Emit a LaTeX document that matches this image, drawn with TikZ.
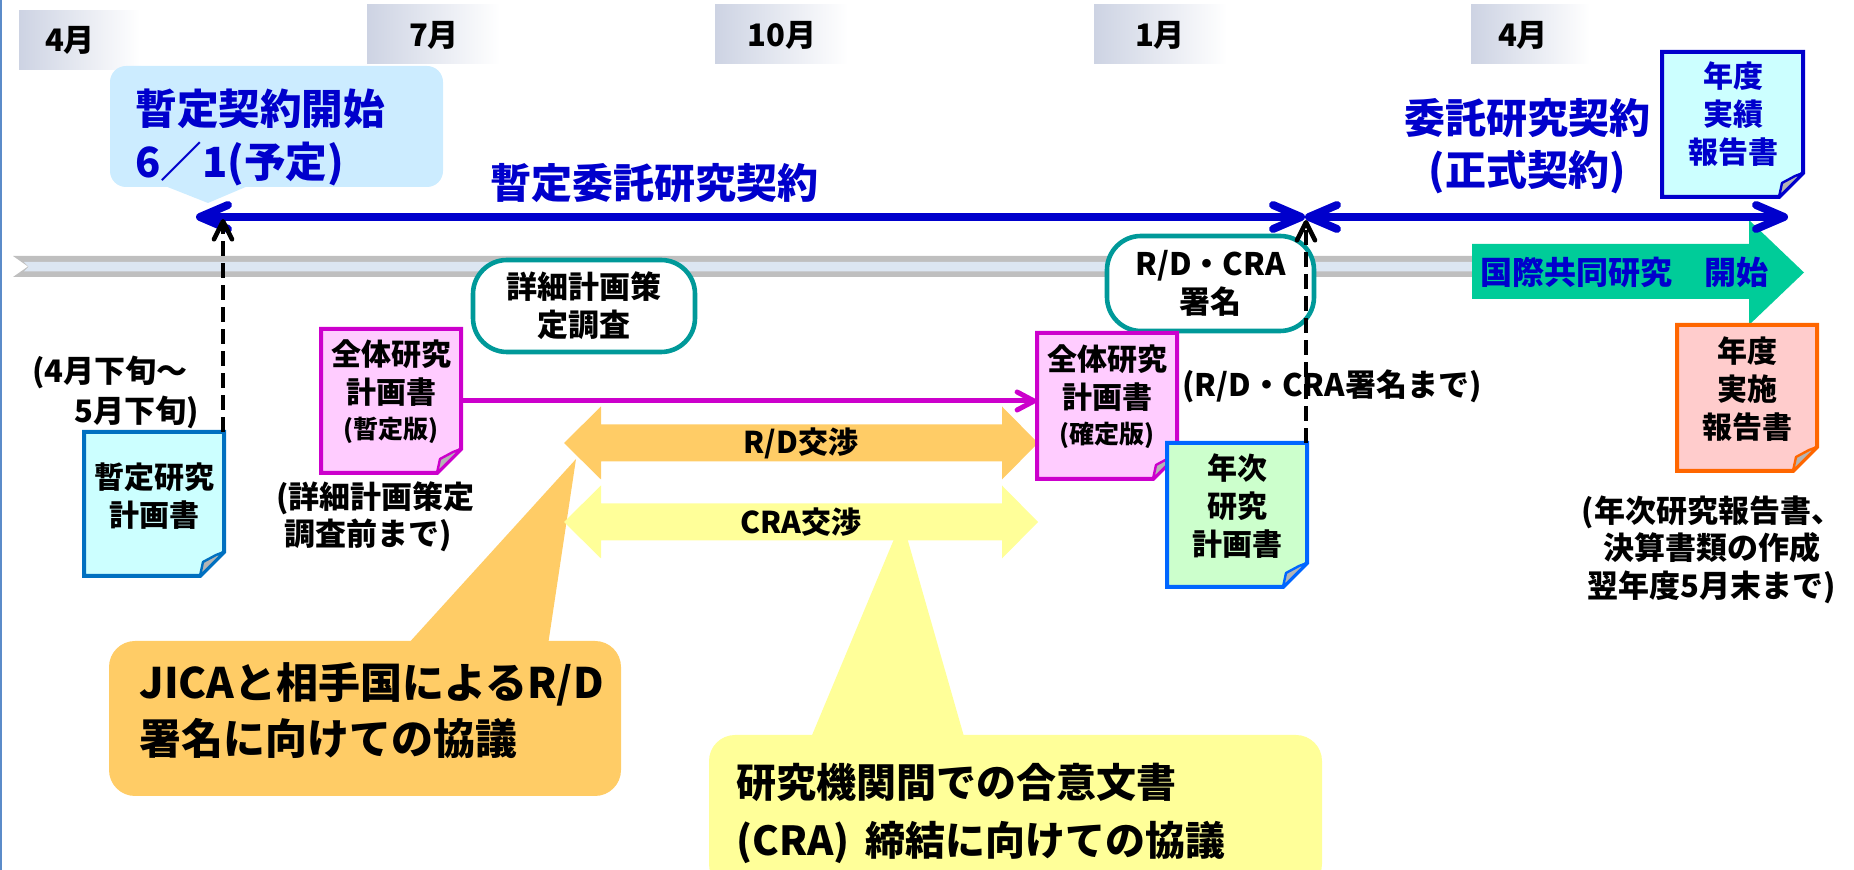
\documentclass[tikz,border=0pt]{standalone}
\usepackage{fontspec}
\setmainfont{Noto Sans CJK JP}
\usetikzlibrary{arrows.meta}
\definecolor{cblue}{HTML}{0000CC}
\definecolor{callblue}{HTML}{CCECFF}
\definecolor{tealc}{HTML}{009999}
\definecolor{monthc}{HTML}{CDD3E3}
\definecolor{bargray}{HTML}{BFBFBF}
\definecolor{barin}{HTML}{DCE6F2}
\definecolor{corange}{HTML}{FFCC66}
\definecolor{cyellow}{HTML}{FFFF99}
\definecolor{cgreen}{HTML}{00CC99}
\definecolor{doca}{HTML}{0070C0}
\definecolor{docc}{HTML}{CCFFFF}
\definecolor{magb}{HTML}{CC00CC}
\definecolor{magf}{HTML}{FFCCFF}
\definecolor{grb}{HTML}{0066FF}
\definecolor{grf}{HTML}{CCFFCC}
\definecolor{orb}{HTML}{FF6600}
\definecolor{orf}{HTML}{FFCCCC}
\definecolor{foldc}{HTML}{B4B4B4}
\definecolor{lborder}{HTML}{5B8BC9}
\newcommand\docshape[5]{%
  \filldraw[#5] (#1,#2) -- (#3,#2) -- (#3,#4-24) -- (#3-24,#4) -- (#1,#4) -- cycle;
  \filldraw[#5, fill=foldc, line width=1.2pt, line join=round] (#3-24,#4) -- (#3-21,#4-14) -- (#3-8,#4-21) -- (#3,#4-24) -- cycle;}
\begin{document}
\begin{tikzpicture}[x=0.5pt,y=-0.5pt,
  every node/.style={inner sep=0pt, font=\bfseries},
  montxt/.style={font=\bfseries\fontsize{15.5}{18}\selectfont},
  doctext/.style={align=center, font=\bfseries\fontsize{15}{19}\selectfont},
  docfrm/.style={line width=2pt, line join=miter},
  tealbox/.style={draw=tealc, line width=2.3pt, fill=white, rounded corners=17pt, align=center, font=\bfseries\fontsize{15.5}{19}\selectfont},
  blueline/.style={cblue, line width=4pt, {Straight Barb[length=14pt,width=12pt,round]}-{Straight Barb[length=14pt,width=12pt,round]}},
  dashedarrow/.style={black, line width=2.3pt, dash pattern=on 7.5pt off 3.5pt, -{Straight Barb[length=9pt,width=9pt,round]}},
  magarrow/.style={magb, line width=2.5pt, -{Straight Barb[length=8.5pt,width=9pt,round]}},
  notetxt/.style={font=\bfseries\fontsize{15.5}{19}\selectfont},
  bluetxt/.style={text=cblue, font=\bfseries\fontsize{20.5}{26}\selectfont},
  docbox/.style={minimum width=70pt, minimum height=72pt},
]
\useasboundingbox (0,0) rectangle (1854,870);
\clip (0,0) rectangle (1854,870);
% left border
\draw[lborder, line width=1pt] (1,0) -- (1,870);
% month labels
\shade[left color=monthc, right color=white] (19,11) rectangle (140,70);
\shade[left color=monthc, right color=white] (367,5) rectangle (500,64);
\shade[left color=monthc, right color=white] (715,5) rectangle (848,64);
\shade[left color=monthc, right color=white] (1094,5) rectangle (1227,64);
\shade[left color=monthc, right color=white] (1471,5) rectangle (1590,64);
\node[montxt] (m1) at (70,40) {4月};
\node[montxt] (m2) at (434,35) {7月};
\node[montxt] (m3) at (782,35) {10月};
\node[montxt] (m4) at (1160,35) {1月};
\node[montxt] (m5) at (1523,35) {4月};
% timeline bar
\fill[bargray] (13,256) -- (1474,256) -- (1474,277) -- (13,277) -- (28,266.5) -- cycle;
\fill[barin] (24,262) -- (1474,262) -- (1474,271.5) -- (24,271.5) -- (28.5,266.75) -- cycle;
% callout: start of provisional contract
\node[fill=callblue, rounded corners=8pt, minimum width=166.5pt, minimum height=60.5pt] (c0) at (276.5,126.5) {};
\fill[callblue] (165,186) -- (208,203) -- (248,186) -- cycle;
\node[anchor=west, align=left, text=cblue, font=\bfseries\fontsize{20.8}{26.5}\selectfont] (c0t) at (135,137) {暫定契約開始\\6／1(予定)};
% callout orange
\fill[corange] (407,645) -- (576,459) -- (548,645) -- cycle;
\node[fill=corange, rounded corners=13pt, minimum width=256pt, minimum height=77.5pt] (c1) at (365,718.5) {};
\node[anchor=west, align=left, font=\bfseries\fontsize{21}{28}\selectfont] (c1t) at (139,711) {JICAと相手国によるR/D\\署名に向けての協議};
% callout yellow
\fill[cyellow] (810,740) -- (902,520) -- (965,740) -- cycle;
\node[fill=cyellow, rounded corners=13pt, minimum width=306.5pt, minimum height=77.5pt] (c2) at (1015.5,812.5) {};
\node[anchor=west, align=left, font=\bfseries\fontsize{20}{29}\selectfont] (c2t) at (736,813) {研究機関間での合意文書\\(CRA)\hspace{0.4em}締結に向けての協議};
% negotiation arrows
\fill[corange] (564,443) -- (601,406.5) -- (601,424.5) -- (1002,424.5) -- (1002,406.5) -- (1038,443) -- (1002,479.5) -- (1002,461.5) -- (601,461.5) -- (601,479.5) -- cycle;
\node[font=\bfseries\fontsize{15}{18}\selectfont] (rdt) at (801,443) {R/D交渉};
\fill[cyellow] (564,522) -- (601,485.5) -- (601,503.5) -- (1002,503.5) -- (1002,485.5) -- (1038,522) -- (1002,558.5) -- (1002,540.5) -- (601,540.5) -- (601,558.5) -- cycle;
\node[font=\bfseries\fontsize{15}{18}\selectfont] (crat) at (801,522) {CRA交渉};
% teal boxes
\node[tealbox, minimum width=111pt, minimum height=46pt] (t1) at (584,306) {詳細計画策\\定調査};
\node[tealbox, minimum width=103.5pt, minimum height=47.5pt] (t2) at (1210.5,283.5) {R/D・CRA\\署名};
% green arrow
\fill[cgreen] (1472,244) -- (1749,244) -- (1749,220) -- (1804,272.5) -- (1749,325) -- (1749,299) -- (1472,299) -- cycle;
\node[text=cblue, font=\bfseries\fontsize{16}{19}\selectfont] (gt) at (1624,272) {国際共同研究　開始};
% documents
\docshape{84}{432}{224}{576}{docfrm, draw=doca, fill=docc}
\node[docbox] (d1) at (154,504) {};
\node[doctext] (d1t) at (154,496) {暫定研究\\計画書};
\docshape{321}{329}{461}{473}{docfrm, draw=magb, fill=magf}
\node[docbox] (d2) at (391,401) {};
\node[doctext] (d2t) at (391,392) {全体研究\\計画書\\[-1.5pt]{\fontsize{12.5}{15}\selectfont(暫定版)}};
\docshape{1037}{333}{1177}{479}{docfrm, draw=magb, fill=magf}
\node[docbox] (d3) at (1107,406) {};
\node[doctext] (d3t) at (1107,397) {全体研究\\計画書\\[-1.5pt]{\fontsize{12.5}{15}\selectfont(確定版)}};
\docshape{1167}{443}{1307}{587}{docfrm, draw=grb, fill=grf}
\node[docbox] (d4) at (1237,515) {};
\node[doctext] (d4t) at (1237,506.5) {年次\\研究\\計画書};
\docshape{1662}{52}{1803}{197}{docfrm, draw=cblue, fill=docc}
\node[docbox] (d5) at (1732.5,124.5) {};
\node[doctext, text=cblue] (d5t) at (1733,114.5) {年度\\実績\\報告書};
\docshape{1677}{325}{1817}{471}{docfrm, draw=orb, fill=orf}
\node[docbox] (d6) at (1747,398) {};
\node[doctext] (d6t) at (1747,389.5) {年度\\実施\\報告書};
% texts
\node[bluetxt] (zt) at (654,183) {暫定委託研究契約};
\node[bluetxt, align=center] (it) at (1527,146) {委託研究契約\\(正式契約)};
\node[notetxt, align=left, anchor=west, font=\bfseries\fontsize{15.5}{20}\selectfont] (n1) at (32,392) {(4月下旬～\\\hspace*{21pt}5月下旬)};
\node[notetxt, align=left, anchor=west, font=\bfseries\fontsize{15.5}{18.5}\selectfont] (n2) at (276,516.5) {(詳細計画策定\\\hspace*{4pt}調査前まで)};
\node[notetxt, anchor=west] (n3) at (1182,386) {(R/D・CRA署名まで)};
\node[notetxt, align=center, font=\bfseries\fontsize{15.5}{18.75}\selectfont] (n4) at (1712,549.5) {(年次研究報告書、\\決算書類の作成\\翌年度5月末まで)};
% connectors
\draw[magarrow] (d2.east) -- (d2.east -| d3.west);
\coordinate (b1) at (196,217);
\coordinate (b2) at (1305,217);
\coordinate (b3) at (1788,217);
\draw[blueline] (b1) -- (b2);
\draw[blueline] (b2) -- (b3);
\coordinate (k1) at (223,219);
\coordinate (k2) at (1306,220);
\draw[dashedarrow] (d1.north east -| k1) -- (k1);
\draw[dashedarrow] (d4.north east -| k2) -- (k2);
\end{tikzpicture}
\end{document}
